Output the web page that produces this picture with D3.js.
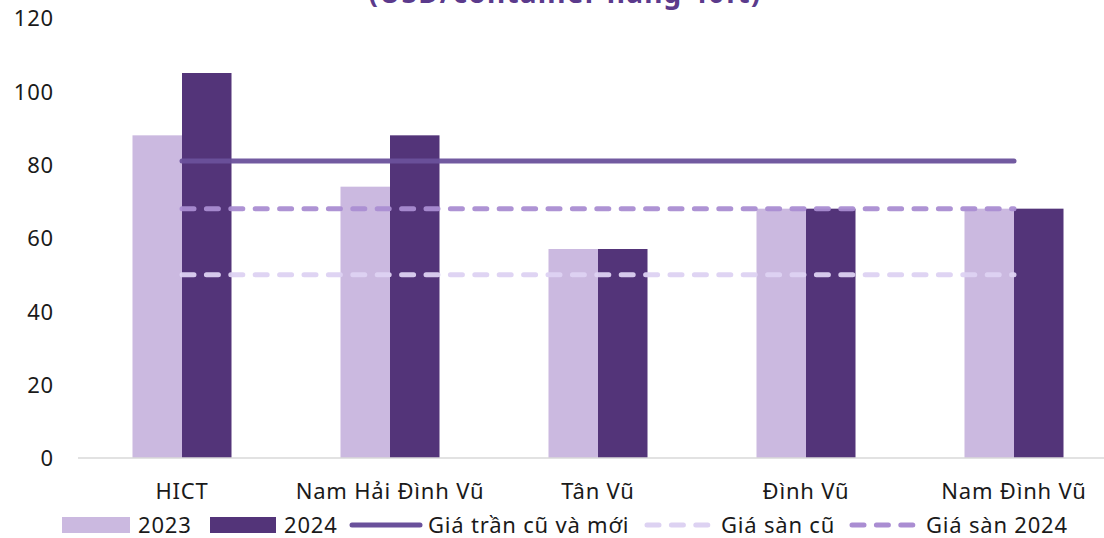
<!DOCTYPE html>
<html>
<head>
<meta charset="utf-8">
<script src="https://cdn.jsdelivr.net/npm/d3@7"></script>
<style>
  body { margin: 0; background: #fff; }
  svg text { font-family: "Noto Sans", "DejaVu Sans", sans-serif; fill: #1a1a1a; letter-spacing: 0.8px; }
</style>
</head>
<body>
<svg id="chart" width="1104" height="538"></svg>
<script>
var title = "(USD/container hàng 40ft)";
var ports = ["HICT", "Nam Hải Đình Vũ", "Tân Vũ", "Đình Vũ", "Nam Đình Vũ"];
var price2023 = [88, 74, 57, 68, 68];
var price2024 = [105, 88, 57, 68, 68];
var ceilingPrice = [81, 81, 81, 81, 81];   // giá trần cũ và mới
var floorOld = [50, 50, 50, 50, 50];        // giá sàn cũ
var floor2024 = [68, 68, 68, 68, 68];       // giá sàn 2024
var yTicks = [0, 20, 40, 60, 80, 100, 120];

var col2023 = "#cbb9e0", col2024 = "#533479";
var colCeil = "#6a519b", colFloorOld = "#ddd2f2", colFloor24 = "#aa8dd2";

var svg = d3.select("#chart");
var mLeft = 78, mRight = 1118, mTop = 18, mBottom = 458;

var x = d3.scaleBand().domain(ports).range([mLeft, mRight])
  .paddingInner(0.524).paddingOuter(0.262);
var sub = d3.scaleBand().domain(["2023", "2024"]).range([0, x.bandwidth()]);
var y = d3.scaleLinear().domain([0, 120]).range([mBottom, mTop]);

// title, mostly cut off by the top edge
svg.append("text")
  .attr("x", 565).attr("y", 3)
  .attr("text-anchor", "middle")
  .style("font-size", "28px").style("font-weight", "bold")
  .style("letter-spacing", "1.2px")
  .style("fill", "#5b3a8c")
  .text(title);

// y axis labels
var yAxis = svg.append("g").attr("transform", "translate(54,0)")
  .call(d3.axisLeft(y).tickValues(yTicks).tickSize(0).tickPadding(0));
yAxis.select(".domain").remove();
yAxis.selectAll("text").style("font-size", "22px").attr("dy", "0.35em")
  .attr("font-family", null);

// bars
var groups = svg.append("g").selectAll("g").data(ports).join("g")
  .attr("transform", function(d){ return "translate(" + x(d) + ",0)"; });
groups.append("rect")
  .attr("x", sub("2023")).attr("width", sub.bandwidth())
  .attr("y", function(d, i){ return y(price2023[i]); })
  .attr("height", function(d, i){ return y(0) - y(price2023[i]); })
  .attr("fill", col2023);
groups.append("rect")
  .attr("x", sub("2024")).attr("width", sub.bandwidth())
  .attr("y", function(d, i){ return y(price2024[i]); })
  .attr("height", function(d, i){ return y(0) - y(price2024[i]); })
  .attr("fill", col2024);

// x axis
var xAxis = svg.append("g").attr("transform", "translate(0," + mBottom + ")")
  .call(d3.axisBottom(x).tickSize(0).tickPadding(22));
xAxis.select(".domain").attr("stroke", "#d9d9d9").attr("stroke-width", 1.5)
  .attr("d", "M" + mLeft + ",0H" + mRight);
xAxis.selectAll("text").style("font-size", "22px").attr("dy", "0.35em").attr("y", 33);

// reference lines
var line = d3.line()
  .x(function(d, i){ return x(ports[i]) + x.bandwidth() / 2; })
  .y(function(d){ return y(d); });

function refLine(data, color, dash) {
  svg.append("path").datum(data)
    .attr("d", line)
    .attr("fill", "none")
    .attr("stroke", color)
    .attr("stroke-width", 5)
    .attr("stroke-linecap", "round")
    .attr("stroke-dasharray", dash)
    .attr("opacity", 0.95);
}
refLine(floorOld, colFloorOld, "12 12.4");
refLine(floor2024, colFloor24, "12 12.4");
refLine(ceilingPrice, colCeil, null);

// legend
var legend = svg.append("g").attr("transform", "translate(0,525)");
var items = [
  {label: "2023", type: "rect", color: col2023, x: 62, w: 68},
  {label: "2024", type: "rect", color: col2024, x: 210, w: 66},
  {label: "Giá trần cũ và mới", type: "line", color: colCeil, x: 352, w: 68},
  {label: "Giá sàn cũ", type: "dash", color: colFloorOld, x: 647, w: 66},
  {label: "Giá sàn 2024", type: "dash", color: colFloor24, x: 852, w: 66}
];
items.forEach(function(it){
  if (it.type == "rect") {
    legend.append("rect").attr("x", it.x).attr("y", -8).attr("width", it.w).attr("height", 16)
      .attr("fill", it.color);
  } else {
    legend.append("line").attr("x1", it.x).attr("x2", it.x + it.w)
      .attr("stroke", it.color).attr("stroke-width", 5)
      .attr("stroke-linecap", "round")
      .attr("stroke-dasharray", it.type == "dash" ? "12 12.4" : null);
  }
  legend.append("text").attr("x", it.x + it.w + 8).attr("dy", "0.35em")
    .style("font-size", "22px").text(it.label);
});
</script>
</body>
</html>
